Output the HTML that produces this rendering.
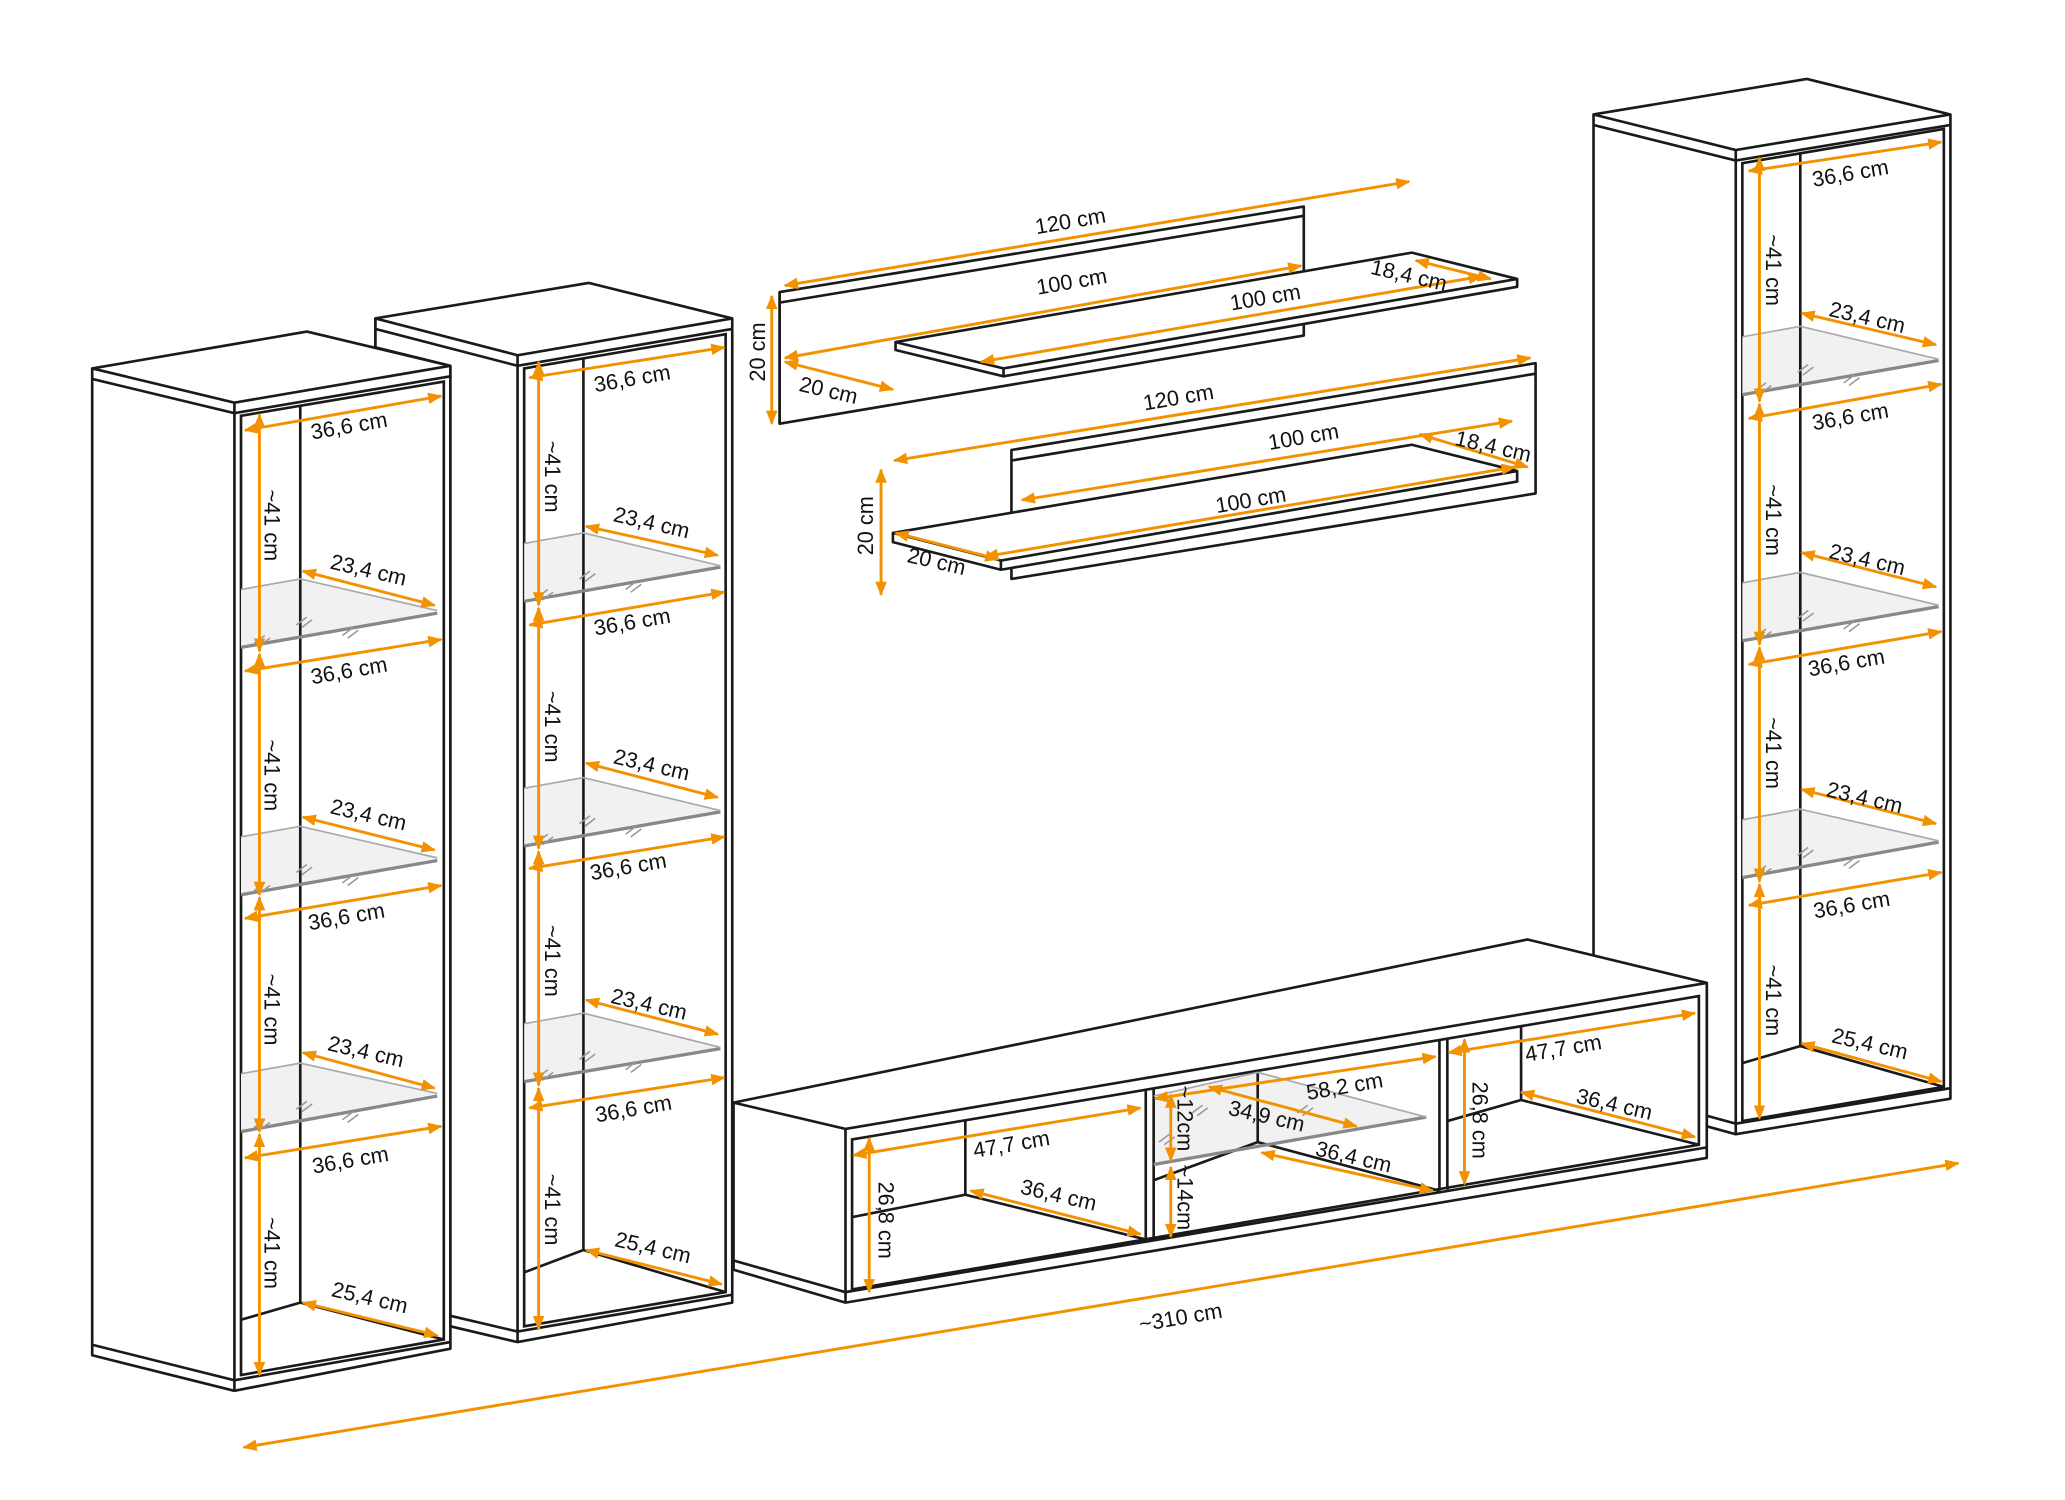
<!DOCTYPE html>
<html><head><meta charset="utf-8"><style>
html,body{margin:0;padding:0;background:#fff;}
svg{display:block;}
.k{fill:#fff;stroke:#1a1a1a;stroke-width:2;stroke-linejoin:round;}
.l{stroke:#1a1a1a;stroke-width:2;fill:none;}
.g{stroke:#888;stroke-width:2.5;fill:none;}
.g2{stroke:#aaa;stroke-width:1.3;fill:none;}
.gf{fill:#f1f1f1;stroke:none;}
.d{stroke:#f39200;stroke-width:2.2;fill:none;marker-start:url(#a);marker-end:url(#a);}
text{font-family:"Liberation Sans",sans-serif;font-size:16.5px;fill:#111;}
</style></head><body>
<svg width="2065" height="1500" viewBox="0 0 1568 1140" preserveAspectRatio="none" xmlns="http://www.w3.org/2000/svg">
<defs><marker id="a" viewBox="0 0 10 10" refX="9" refY="5" markerWidth="5" markerHeight="5" orient="auto-start-reverse"><path d="M0,1 L10,5 L0,9 z" fill="#f39200"/></marker>
<g id="h" stroke="#999" stroke-width="1.2"><line x1="0" y1="6" x2="8" y2="0"/><line x1="4" y1="8" x2="12" y2="2"/></g>
<g id="hs"><use href="#h" x="8" y="-22"/><use href="#h" x="40" y="-36"/><use href="#h" x="75" y="-28"/></g>
</defs>

<!-- Cabinet 1 -->
<polygon class="k" points="70,280 233,252 342,278 342,1025 178,1057 70,1030"/>
<polyline class="l" points="70,280 178,306 342,278"/>
<polyline class="l" points="70,288 178,314 342,286"/>
<line class="l" x1="178" y1="306" x2="178" y2="1057"/>
<polyline class="l" points="70,1022 178,1049 342,1020"/>
<polygon class="l" points="183,316 337,290 337,1018 183,1045"/>
<g class="gf"><polygon points="183,448 228,440 332,464 183,492"/><polygon points="183,636 228,628 332,652 183,680"/><polygon points="183,816 228,808 332,831 183,860"/></g>
<line class="l" x1="228" y1="308" x2="228" y2="990"/>
<polyline class="l" points="183,1003 228,990 337,1018"/>
<g class="g"><line x1="183" y1="492" x2="332" y2="466"/><line x1="183" y1="680" x2="332" y2="654"/><line x1="183" y1="860" x2="332" y2="833"/></g>
<g class="g2"><polyline points="183,448 228,440 332,464"/><polyline points="183,636 228,628 332,652"/><polyline points="183,816 228,808 332,831"/></g>
<use href="#hs" x="185" y="505"/><use href="#hs" x="185" y="693"/><use href="#hs" x="185" y="873"/>
<g class="d">
<line x1="186" y1="327" x2="335" y2="301"/><line x1="186" y1="510" x2="335" y2="486"/><line x1="186" y1="698" x2="335" y2="673"/><line x1="186" y1="880" x2="335" y2="856"/>
<line x1="230" y1="434" x2="330" y2="460"/><line x1="230" y1="621" x2="330" y2="646"/><line x1="230" y1="800" x2="330" y2="827"/><line x1="230" y1="990" x2="332" y2="1015"/>
<line x1="197" y1="315" x2="197" y2="495"/><line x1="197" y1="497" x2="197" y2="680"/><line x1="197" y1="682" x2="197" y2="860"/><line x1="197" y1="862" x2="197" y2="1045"/>
</g>
<text transform="translate(237,334) rotate(-9.7)">36,6 cm</text>
<text transform="translate(237,520) rotate(-9.7)">36,6 cm</text>
<text transform="translate(235,707) rotate(-9.7)">36,6 cm</text>
<text transform="translate(238,892) rotate(-9.7)">36,6 cm</text>
<text transform="translate(250,432) rotate(13)">23,4 cm</text>
<text transform="translate(250,618) rotate(13)">23,4 cm</text>
<text transform="translate(248,798) rotate(13)">23,4 cm</text>
<text transform="translate(251,985) rotate(13)">25,4 cm</text>
<text transform="translate(201,372) rotate(90)">~41 cm</text>
<text transform="translate(201,562) rotate(90)">~41 cm</text>
<text transform="translate(201,740) rotate(90)">~41 cm</text>
<text transform="translate(201,925) rotate(90)">~41 cm</text>

<!-- Cabinet 2 -->
<polygon class="k" points="285,242 447,215 556,242 556,990 393,1020 342,1008 342,278 285,264"/>
<polyline class="l" points="285,242 393,270 556,242"/>
<polyline class="l" points="285,250 393,278 556,250"/>
<line class="l" x1="393" y1="270" x2="393" y2="1020"/>
<line class="l" x1="285" y1="242" x2="285" y2="264"/>
<polyline class="l" points="342,1000 393,1012 556,984"/>
<polygon class="l" points="398,280 551,254 551,982 398,1008"/>
<g class="gf"><polygon points="398,413 443,405 547,430 398,457"/><polygon points="398,599 443,591 547,616 398,643"/><polygon points="398,778 443,770 547,796 398,822"/></g>
<line class="l" x1="443" y1="272" x2="443" y2="950"/>
<polyline class="l" points="398,967 443,950 551,982"/>
<g class="g"><line x1="398" y1="457" x2="547" y2="431"/><line x1="398" y1="643" x2="547" y2="617"/><line x1="398" y1="822" x2="547" y2="797"/></g>
<g class="g2"><polyline points="398,413 443,405 547,430"/><polyline points="398,599 443,591 547,616"/><polyline points="398,778 443,770 547,796"/></g>
<use href="#hs" x="400" y="470"/><use href="#hs" x="400" y="656"/><use href="#hs" x="400" y="835"/>
<g class="d">
<line x1="402" y1="287" x2="550" y2="264"/><line x1="402" y1="475" x2="550" y2="450"/><line x1="402" y1="660" x2="550" y2="636"/><line x1="402" y1="842" x2="550" y2="819"/>
<line x1="445" y1="400" x2="545" y2="422"/><line x1="445" y1="580" x2="545" y2="606"/><line x1="445" y1="760" x2="545" y2="786"/><line x1="445" y1="950" x2="548" y2="976"/>
<line x1="409" y1="275" x2="409" y2="460"/><line x1="409" y1="462" x2="409" y2="645"/><line x1="409" y1="647" x2="409" y2="825"/><line x1="409" y1="827" x2="409" y2="1010"/>
</g>
<text transform="translate(452,298) rotate(-9.7)">36,6 cm</text>
<text transform="translate(452,483) rotate(-9.7)">36,6 cm</text>
<text transform="translate(449,669) rotate(-9.7)">36,6 cm</text>
<text transform="translate(453,853) rotate(-9.7)">36,6 cm</text>
<text transform="translate(465,396) rotate(13)">23,4 cm</text>
<text transform="translate(465,580) rotate(13)">23,4 cm</text>
<text transform="translate(463,762) rotate(13)">23,4 cm</text>
<text transform="translate(466,947) rotate(13)">25,4 cm</text>
<text transform="translate(414,335) rotate(90)">~41 cm</text>
<text transform="translate(414,525) rotate(90)">~41 cm</text>
<text transform="translate(414,703) rotate(90)">~41 cm</text>
<text transform="translate(414,892) rotate(90)">~41 cm</text>

<!-- Right cabinet -->
<polygon class="k" points="1210,87 1372,60 1481,87 1481,835 1318,862 1296,856 1296,747 1210,727"/>
<polyline class="l" points="1210,87 1318,114 1481,87"/>
<polyline class="l" points="1210,95 1318,122 1481,95"/>
<line class="l" x1="1318" y1="114" x2="1318" y2="862"/>
<polyline class="l" points="1296,848 1318,854 1481,827"/>
<polygon class="l" points="1323,124 1476,98 1476,826 1323,852"/>
<g class="gf"><polygon points="1323,256 1367,248 1472,273 1323,300"/><polygon points="1323,443 1367,435 1472,460 1323,487"/><polygon points="1323,623 1367,615 1472,639 1323,667"/></g>
<line class="l" x1="1367" y1="116" x2="1367" y2="795"/>
<polyline class="l" points="1323,808 1367,795 1476,826"/>
<g class="g"><line x1="1323" y1="300" x2="1472" y2="274"/><line x1="1323" y1="487" x2="1472" y2="461"/><line x1="1323" y1="667" x2="1472" y2="640"/></g>
<g class="g2"><polyline points="1323,256 1367,248 1472,273"/><polyline points="1323,443 1367,435 1472,460"/><polyline points="1323,623 1367,615 1472,639"/></g>
<use href="#hs" x="1325" y="313"/><use href="#hs" x="1325" y="500"/><use href="#hs" x="1325" y="680"/>
<g class="d">
<line x1="1328" y1="130" x2="1474" y2="108"/><line x1="1328" y1="318" x2="1474" y2="292"/><line x1="1328" y1="505" x2="1474" y2="480"/><line x1="1328" y1="688" x2="1474" y2="663"/>
<line x1="1368" y1="238" x2="1470" y2="262"/><line x1="1368" y1="420" x2="1470" y2="446"/><line x1="1368" y1="600" x2="1470" y2="626"/><line x1="1368" y1="793" x2="1474" y2="822"/>
<line x1="1336" y1="120" x2="1336" y2="305"/><line x1="1336" y1="307" x2="1336" y2="490"/><line x1="1336" y1="492" x2="1336" y2="670"/><line x1="1336" y1="672" x2="1336" y2="850"/>
</g>
<text transform="translate(1377,142) rotate(-9.7)">36,6 cm</text>
<text transform="translate(1377,327) rotate(-9.7)">36,6 cm</text>
<text transform="translate(1374,514) rotate(-9.7)">36,6 cm</text>
<text transform="translate(1378,698) rotate(-9.7)">36,6 cm</text>
<text transform="translate(1388,240) rotate(13)">23,4 cm</text>
<text transform="translate(1388,424) rotate(13)">23,4 cm</text>
<text transform="translate(1386,605) rotate(13)">23,4 cm</text>
<text transform="translate(1390,792) rotate(13)">25,4 cm</text>
<text transform="translate(1341,178) rotate(90)">~41 cm</text>
<text transform="translate(1341,368) rotate(90)">~41 cm</text>
<text transform="translate(1341,545) rotate(90)">~41 cm</text>
<text transform="translate(1341,733) rotate(90)">~41 cm</text>

<!-- TV stand -->
<polygon class="k" points="557,838 1160,714 1296,747 1296,880 642,990 557,965"/>
<polyline class="l" points="557,838 642,858 1296,747"/>
<line class="l" x1="642" y1="858" x2="642" y2="990"/>
<polyline class="l" points="557,958 642,982 1296,872"/>
<polygon class="l" points="647,866 1290,757 1290,870 647,980"/>
<polygon class="gf" points="876,833 955,815 1083,849 876,885"/>
<line class="l" x1="870" y1="828" x2="870" y2="942"/><line class="l" x1="876" y1="827" x2="876" y2="941"/>
<line class="l" x1="1093" y1="790" x2="1093" y2="905"/><line class="l" x1="1099" y1="789" x2="1099" y2="904"/>
<line class="l" x1="733" y1="852" x2="733" y2="908"/>
<polyline class="l" points="647,925 733,908 870,942"/>
<line class="l" x1="955" y1="814" x2="955" y2="868"/>
<polyline class="l" points="876,897 955,868 1093,905"/>
<line class="l" x1="1155" y1="780" x2="1155" y2="836"/>
<polyline class="l" points="1099,852 1155,836 1290,870"/>
<g class="g"><line x1="876" y1="885" x2="1083" y2="849"/></g>
<g class="g2"><polyline points="876,833 955,815 1083,849"/></g>
<use href="#h" x="905" y="840"/><use href="#h" x="985" y="840"/><use href="#h" x="880" y="862"/>
<g class="d">
<line x1="648" y1="878" x2="866" y2="842"/><line x1="660" y1="865" x2="660" y2="982"/><line x1="737" y1="905" x2="866" y2="938"/>
<line x1="877" y1="835" x2="1090" y2="803"/><line x1="918" y1="826" x2="1030" y2="856"/>
<line x1="889" y1="832" x2="889" y2="882"/><line x1="889" y1="887" x2="889" y2="940"/>
<line x1="958" y1="876" x2="1088" y2="905"/>
<line x1="1100" y1="800" x2="1287" y2="770"/><line x1="1112" y1="790" x2="1112" y2="900"/><line x1="1155" y1="830" x2="1287" y2="864"/>
<line x1="185" y1="1100" x2="1487" y2="884"/>
</g>
<text transform="translate(740,880) rotate(-9.7)">47,7 cm</text>
<text transform="translate(667,898) rotate(90)">26,8 cm</text>
<text transform="translate(774,907) rotate(13)">36,4 cm</text>
<text transform="translate(993,836) rotate(-9.7)">58,2 cm</text>
<text transform="translate(932,847) rotate(13)">34,9 cm</text>
<text transform="translate(894,825) rotate(90)">~12cm</text>
<text transform="translate(894,885) rotate(90)">~14cm</text>
<text transform="translate(998,878) rotate(13)">36,4 cm</text>
<text transform="translate(1159,807) rotate(-9.7)">47,7 cm</text>
<text transform="translate(1118,822) rotate(90)">26,8 cm</text>
<text transform="translate(1196,838) rotate(13)">36,4 cm</text>
<text transform="translate(866,1012) rotate(-9.7)">~310 cm</text>

<!-- Upper shelf set -->
<polygon class="k" points="592,222 990,157 990,255 592,322"/>
<line class="l" x1="592" y1="222" x2="592" y2="322"/>
<polyline class="l" points="592,230 990,164"/>
<polygon class="k" points="680,260 1072,192 1152,212 1152,218 762,286 680,266"/>
<polyline class="l" points="680,260 762,280 1152,212"/>
<line class="l" x1="762" y1="280" x2="762" y2="286"/>
<g class="d">
<line x1="596" y1="217" x2="1070" y2="138"/><line x1="596" y1="272" x2="988" y2="202"/><line x1="745" y1="275" x2="1125" y2="210"/>
<line x1="1075" y1="198" x2="1132" y2="212"/><line x1="586" y1="225" x2="586" y2="322"/><line x1="596" y1="275" x2="678" y2="296"/>
</g>
<text transform="translate(787,178) rotate(-9.7)">120 cm</text>
<text transform="translate(788,224) rotate(-9.7)">100 cm</text>
<text transform="translate(935,236) rotate(-9.7)">100 cm</text>
<text transform="translate(1040,208) rotate(13)">18,4 cm</text>
<text transform="translate(581,290) rotate(-90)">20 cm</text>
<text transform="translate(606,297) rotate(13)">20 cm</text>

<!-- Lower shelf set -->
<polygon class="k" points="768,342 1166,276 1166,375 768,440"/>
<polyline class="l" points="768,350 1166,284"/>
<polygon class="k" points="678,405 1072,338 1152,358 1152,366 760,433 678,412"/>
<polyline class="l" points="678,405 760,426 1152,358"/>
<line class="l" x1="760" y1="426" x2="760" y2="433"/>
<g class="d">
<line x1="679" y1="350" x2="1162" y2="272"/><line x1="776" y1="380" x2="1148" y2="320"/><line x1="748" y1="423" x2="1150" y2="355"/>
<line x1="1078" y1="330" x2="1160" y2="355"/><line x1="669" y1="357" x2="669" y2="452"/><line x1="680" y1="405" x2="758" y2="425"/>
</g>
<text transform="translate(869,312) rotate(-9.7)">120 cm</text>
<text transform="translate(964,342) rotate(-9.7)">100 cm</text>
<text transform="translate(924,390) rotate(-9.7)">100 cm</text>
<text transform="translate(1104,338) rotate(13)">18,4 cm</text>
<text transform="translate(663,422) rotate(-90)">20 cm</text>
<text transform="translate(688,427) rotate(13)">20 cm</text>
</svg>
</body></html>
